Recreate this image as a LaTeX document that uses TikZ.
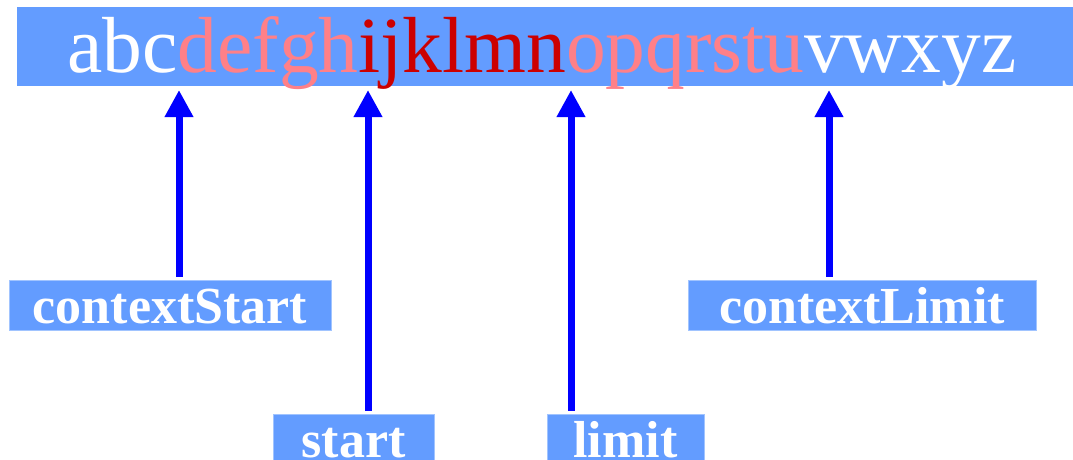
\documentclass[tikz,border=0pt]{standalone}
\usepackage{fontspec}
\setmainfont{Liberation Serif}
\usetikzlibrary{arrows.meta}
\definecolor{barblue}{RGB}{99,156,255}
\definecolor{pinkc}{RGB}{255,128,136}
\definecolor{darkredc}{RGB}{204,0,0}
\definecolor{arrblue}{RGB}{0,0,255}
\tikzset{
  labelbox/.style={fill=barblue, draw=barblue!60!white, line width=0.6pt, inner sep=0pt,
    minimum height=50pt, text height=40pt, text depth=4pt, text=white,
    font=\fontsize{52}{52}\selectfont\bfseries},
  pointer/.style={draw=arrblue, line width=7pt, -{Triangle[width=27pt,length=27pt]}, shorten <=3pt}
}
\begin{document}
\begin{tikzpicture}[x=1pt,y=-1pt]
\useasboundingbox (0,0) rectangle (1073,460);
\fill[barblue] (17,7) rectangle (1073,86);
\node[anchor=base west, inner sep=0pt, font=\fontsize{79.5}{80}\selectfont] (alpha) at (67,72)
  {\textcolor{white}{abc}\textcolor{pinkc}{defgh}\textcolor{darkredc}{ijklmn}\textcolor{pinkc}{opqrstu}\textcolor{white}{vwxyz}};
\node[labelbox, minimum width=322pt] (cs) at (170,305) {contextStart};
\node[labelbox, minimum width=348pt] (cl) at (862,305) {contextLimit};
\node[labelbox, minimum width=161pt] (st) at (353.5,439) {start};
\node[labelbox, minimum width=157pt] (li) at (625.5,439) {limit};
\coordinate (t1) at (179,90);
\coordinate (t2) at (368,90);
\coordinate (t3) at (571,90);
\coordinate (t4) at (829,90);
\draw[pointer] (t1 |- cs.north) -- (t1);
\draw[pointer] (t2 |- st.north) -- (t2);
\draw[pointer] (t3 |- li.north) -- (t3);
\draw[pointer] (t4 |- cl.north) -- (t4);
\end{tikzpicture}
\end{document}
